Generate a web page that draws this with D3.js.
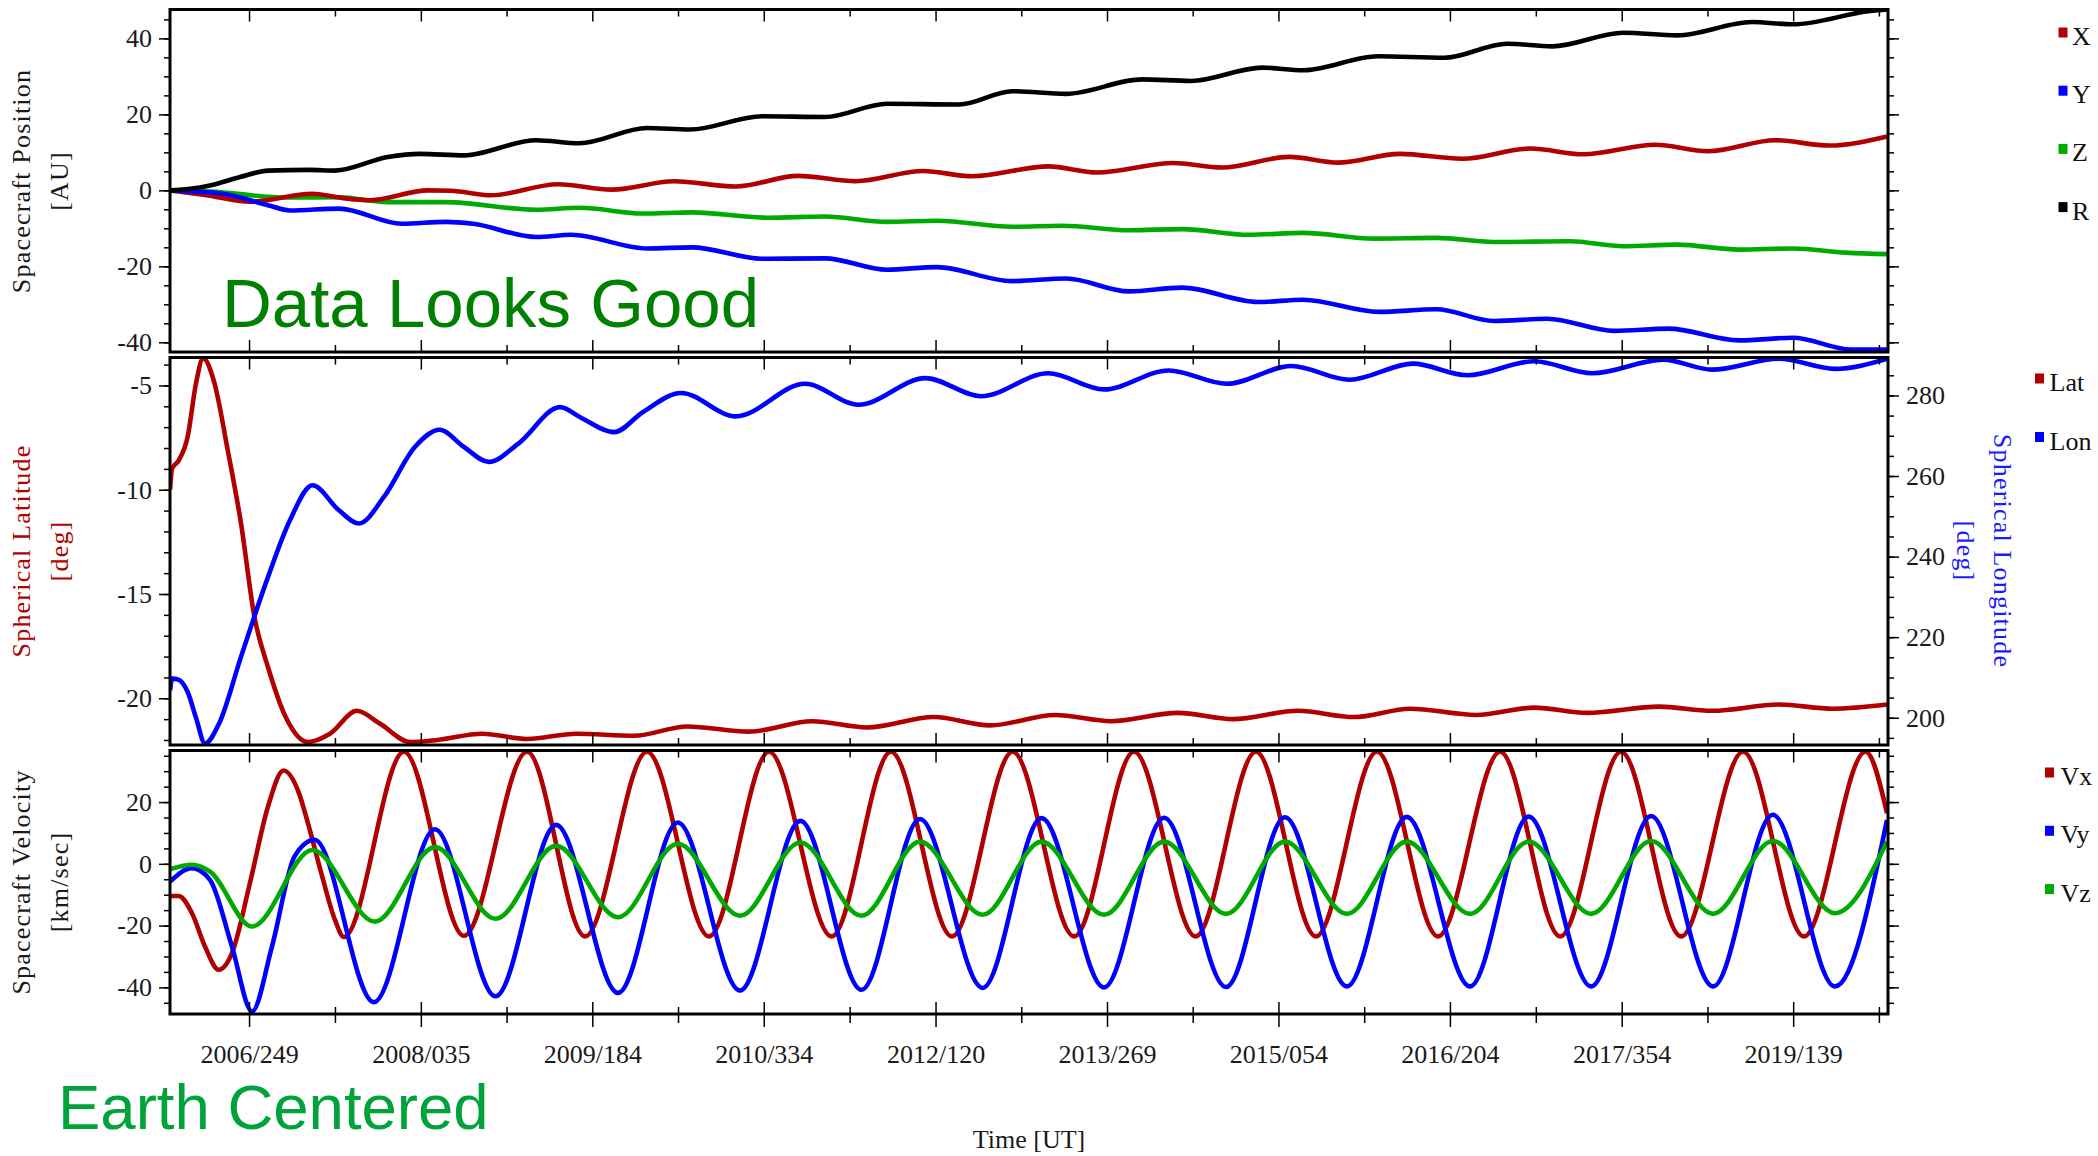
<!DOCTYPE html>
<html><head><meta charset="utf-8">
<script src="https://cdn.jsdelivr.net/npm/d3@7"></script>
<style>
html,body{margin:0;padding:0;background:#fff;}
svg{display:block;}
</style></head><body>
<svg id="c" width="2098" height="1156"></svg>
<script>
// ---------- DATA (time in decimal years) ----------
const xTickLabels = ["2006/249","2008/035","2009/184","2010/334","2012/120","2013/269","2015/054","2016/204","2017/354","2019/139"];
const xDomainYears = [2006.029, 2020.158];

const posTicks = [-40,-20,0,20,40];
const latTicks = [-20,-15,-10,-5];
const lonTicks = [200,220,240,260,280];
const velTicks = [-40,-20,0,20];

const posXdata = [[2006.030,0.0],[2006.317,-1.2],[2006.687,-3.0],[2007.201,-0.9],[2007.419,-1.9],[2007.674,-2.6],[2008.151,0.0],[2008.340,-0.1],[2008.669,-1.3],[2009.220,1.6],[2009.664,0.2],[2010.174,2.4],[2010.684,1.0],[2011.194,3.8],[2011.671,2.4],[2012.222,5.1],[2012.625,3.7],[2013.250,6.3],[2013.653,4.7],[2014.278,7.2],[2014.681,6.0],[2015.232,8.8],[2015.635,7.3],[2016.145,9.6],[2016.655,8.3],[2017.214,11.0],[2017.650,9.5],[2018.242,12.0],[2018.678,10.3],[2019.229,13.2],[2019.673,11.8],[2020.150,14.2]];
const posYdata = [[2006.030,0.0],[2006.465,-0.9],[2006.835,-3.9],[2007.016,-5.3],[2007.419,-4.8],[2007.937,-8.8],[2008.299,-8.3],[2008.521,-8.8],[2009.039,-12.3],[2009.327,-11.7],[2009.952,-15.3],[2010.322,-15.0],[2010.898,-18.0],[2011.416,-17.9],[2011.926,-20.9],[2012.337,-20.2],[2012.954,-23.9],[2013.398,-23.2],[2013.916,-26.6],[2014.352,-25.6],[2014.977,-29.4],[2015.347,-28.8],[2015.972,-32.0],[2016.441,-31.3],[2016.918,-34.4],[2017.354,-33.8],[2017.905,-37.0],[2018.349,-36.4],[2018.933,-39.5],[2019.377,-38.8],[2019.854,-41.9],[2020.150,-41.9]];
const posZdata = [[2006.030,0.0],[2006.358,-0.3],[2006.983,-1.9],[2007.419,-1.8],[2007.822,-3.1],[2008.299,-3.1],[2009.039,-5.1],[2009.401,-4.6],[2009.919,-6.1],[2010.322,-5.8],[2010.939,-7.2],[2011.416,-6.9],[2011.926,-8.3],[2012.337,-8.0],[2012.954,-9.6],[2013.365,-9.3],[2013.916,-10.5],[2014.352,-10.2],[2014.903,-11.7],[2015.347,-11.2],[2015.931,-12.7],[2016.441,-12.5],[2016.951,-13.6],[2017.543,-13.4],[2017.979,-14.7],[2018.423,-14.3],[2018.933,-15.6],[2019.377,-15.3],[2019.813,-16.4],[2020.150,-16.8]];
const posRdata = [[2006.030,0.0],[2006.194,0.4],[2006.358,1.3],[2006.605,3.5],[2006.835,5.2],[2007.181,5.4],[2007.386,5.2],[2007.822,8.8],[2008.085,9.6],[2008.447,9.2],[2009.039,13.2],[2009.393,12.4],[2009.952,16.4],[2010.306,16.0],[2010.898,19.5],[2011.416,19.3],[2011.926,22.8],[2012.518,22.6],[2012.954,26.1],[2013.398,25.4],[2014.023,29.2],[2014.426,28.8],[2015.010,32.3],[2015.347,31.6],[2015.964,35.3],[2016.507,34.9],[2017.025,38.6],[2017.395,37.9],[2017.979,41.5],[2018.423,40.8],[2019.040,44.3],[2019.377,43.7],[2020.010,47.2],[2020.150,47.6]];

const latData = [[2006.030,-10.0],[2006.045,-9.0],[2006.100,-8.6],[2006.173,-7.5],[2006.243,-4.9],[2006.301,-3.7],[2006.391,-4.8],[2006.504,-8.1],[2006.613,-11.6],[2006.724,-16.1],[2006.835,-18.5],[2006.981,-20.9],[2007.164,-22.1],[2007.345,-21.7],[2007.567,-20.6],[2007.752,-21.2],[2008.009,-22.1],[2008.229,-22.0],[2008.595,-21.7],[2008.965,-21.95],[2009.368,-21.7],[2009.845,-21.8],[2010.281,-21.35],[2010.791,-21.6],[2011.309,-21.1],[2011.761,-21.4],[2012.312,-20.9],[2012.773,-21.3],[2013.307,-20.8],[2013.768,-21.1],[2014.319,-20.7],[2014.771,-21.0],[2015.306,-20.6],[2015.766,-20.9],[2016.227,-20.5],[2016.770,-20.8],[2017.247,-20.45],[2017.683,-20.7],[2018.275,-20.4],[2018.711,-20.6],[2019.262,-20.3],[2019.706,-20.5],[2020.150,-20.3]];
const lonData = [[2006.030,206.8],[2006.046,209.7],[2006.095,209.5],[2006.173,206.5],[2006.243,200.0],[2006.317,193.6],[2006.432,198.5],[2006.613,215.1],[2006.835,234.9],[2007.016,249.0],[2007.201,257.7],[2007.419,251.5],[2007.584,248.2],[2007.789,254.8],[2008.044,267.2],[2008.247,271.5],[2008.447,267.2],[2008.651,263.5],[2008.891,268.0],[2009.237,277.1],[2009.401,274.6],[2009.681,270.9],[2009.919,275.9],[2010.232,280.6],[2010.682,274.8],[2011.252,282.9],[2011.691,277.7],[2012.242,284.3],[2012.699,279.8],[2013.250,285.5],[2013.710,281.5],[2014.243,286.2],[2014.720,282.9],[2015.252,287.3],[2015.729,283.9],[2016.252,287.9],[2016.696,285.0],[2017.247,288.5],[2017.724,285.5],[2018.308,288.9],[2018.711,286.4],[2019.262,289.1],[2019.722,286.6],[2020.150,289.1]];

const velXdata = [[2006.030,-10.4],[2006.100,-10.4],[2006.210,-16.0],[2006.317,-26.8],[2006.430,-34.3],[2006.539,-28.9],[2006.687,-6.2],[2006.835,18.5],[2006.963,30.2],[2007.090,22.9],[2007.164,13.2],[2007.274,-3.0],[2007.386,-18.1],[2007.460,-23.7],[2007.954,36.3],[2008.447,-23.3],[2008.965,36.3],[2009.442,-23.5],[2009.952,36.3],[2010.462,-23.5],[2010.956,36.3],[2011.471,-23.5],[2011.959,36.3],[2012.460,-23.5],[2012.958,36.3],[2013.464,-23.5],[2013.957,36.3],[2014.463,-23.5],[2014.960,36.3],[2015.454,-23.5],[2015.956,36.3],[2016.457,-23.5],[2016.967,36.3],[2017.461,-23.5],[2017.962,36.3],[2018.456,-23.5],[2018.966,36.3],[2019.467,-23.5],[2019.974,36.3],[2020.150,16.4]];
const velYdata = [[2006.030,-5.7],[2006.210,-1.4],[2006.358,-5.2],[2006.539,-26.8],[2006.704,-47.8],[2006.868,-26.8],[2007.054,2.4],[2007.219,7.8],[2007.707,-44.8],[2008.209,11.2],[2008.706,-42.9],[2009.204,12.6],[2009.714,-41.8],[2010.205,13.4],[2010.717,-41.0],[2011.214,13.9],[2011.717,-40.8],[2012.197,14.5],[2012.712,-40.2],[2013.196,14.8],[2013.710,-40.0],[2014.204,14.9],[2014.714,-39.9],[2015.199,15.1],[2015.709,-39.7],[2016.200,15.2],[2016.720,-39.7],[2017.202,15.3],[2017.716,-39.7],[2018.209,15.5],[2018.719,-39.7],[2019.211,15.9],[2019.722,-39.7],[2020.150,14.2]];
const velZdata = [[2006.030,-1.7],[2006.210,-0.3],[2006.358,-2.5],[2006.704,-20.3],[2007.201,4.5],[2007.715,-18.7],[2008.209,5.4],[2008.706,-17.8],[2009.204,5.8],[2009.714,-17.3],[2010.205,6.5],[2010.717,-16.8],[2011.214,6.9],[2011.717,-16.8],[2012.197,7.2],[2012.712,-16.5],[2013.196,7.2],[2013.710,-16.5],[2014.204,7.2],[2014.714,-16.2],[2015.199,7.2],[2015.709,-16.2],[2016.200,7.2],[2016.720,-16.2],[2017.202,7.2],[2017.716,-16.2],[2018.209,7.4],[2018.719,-16.2],[2019.211,7.4],[2019.722,-16.0],[2020.150,7.2]];

// ---------- helpers ----------
const RED = "#b00000", BLUE = "#0000ff", GREEN = "#00aa00", BLACK = "#000000";
const SERIF = "'Liberation Serif','Times New Roman',serif";
const SANS = "'Liberation Sans',Arial,sans-serif";

function toDate(dy){
  const y = Math.floor(dy), f = dy - y;
  const days = ((y%4===0 && y%100!==0) || y%400===0) ? 366 : 365;
  return new Date(Date.UTC(y,0,1) + f*days*86400000);
}
function parseYD(s){ const [y,d] = s.split("/").map(Number); return new Date(Date.UTC(y,0,d)); }

const svg = d3.select("#c");
const L = 170, Rr = 1888;
const x = d3.scaleUtc().domain(xDomainYears.map(toDate)).range([L, Rr]);

const majorDates = xTickLabels.map(parseYD);
const minorDates = [];
for (let i=0;i<majorDates.length;i++){
  const a = majorDates[i], b = majorDates[i+1];
  if (b) minorDates.push(new Date((+a + +b)/2));
  else minorDates.push(new Date(+a + (+a - +majorDates[i-1])/2));
}

const panels = [
  {top:9.5,  bottom:352},
  {top:357.5,bottom:745},
  {top:750.5,bottom:1014}
];

const yPos = d3.scaleLinear().domain([-42.55,47.6]).range([352,9.5]);
const yLat = d3.scaleLinear().domain([-22.24,-3.66]).range([745,357.5]);
const yLon = d3.scaleLinear().domain([193.23,289.42]).range([745,357.5]);
const yVel = d3.scaleLinear().domain([-48.63,36.7]).range([1014,750.5]);

function styleAxis(g){
  g.select(".domain").remove();
  g.selectAll(".tick line").attr("stroke","#000").attr("stroke-width",1.5);
  g.selectAll(".tick text").attr("font-family",SERIF).attr("font-size",26).attr("fill","#1a1a1a");
}

function yAxis(scale, xPos, side, majors, minors, labels){
  const mk = () => side==="left" ? d3.axisLeft(scale) : d3.axisRight(scale);
  svg.append("g").attr("transform",`translate(${xPos},0)`)
    .call(mk().tickValues(minors).tickSize(6).tickFormat(""))
    .call(styleAxis);
  svg.append("g").attr("transform",`translate(${xPos},0)`)
    .call(mk().tickValues(majors).tickSize(11).tickPadding(7).tickFormat(labels ? (d=>String(d)) : ""))
    .call(styleAxis);
}

function xInnerTicks(p){
  svg.append("g").attr("transform",`translate(0,${p.top})`)
    .call(d3.axisTop(x).tickValues(majorDates).tickSize(-12).tickFormat("")).call(styleAxis);
  svg.append("g").attr("transform",`translate(0,${p.top})`)
    .call(d3.axisTop(x).tickValues(minorDates).tickSize(-7).tickFormat("")).call(styleAxis);
  svg.append("g").attr("transform",`translate(0,${p.bottom})`)
    .call(d3.axisBottom(x).tickValues(majorDates).tickSize(-12).tickFormat("")).call(styleAxis);
  svg.append("g").attr("transform",`translate(0,${p.bottom})`)
    .call(d3.axisBottom(x).tickValues(minorDates).tickSize(-7).tickFormat("")).call(styleAxis);
}

// clip paths
const defs = svg.append("defs");
panels.forEach((p,i)=>{
  defs.append("clipPath").attr("id","clip"+i).append("rect")
    .attr("x",L).attr("y",p.top).attr("width",Rr-L).attr("height",p.bottom-p.top);
});

function drawLine(data, yScale, color, clipIdx){
  const line = d3.line().x(d=>x(toDate(d[0]))).y(d=>yScale(d[1])).curve(d3.curveMonotoneX);
  svg.append("path").datum(data).attr("d",line)
    .attr("fill","none").attr("stroke",color).attr("stroke-width",4.6)
    .attr("stroke-linejoin","round").attr("stroke-linecap","butt")
    .attr("clip-path",`url(#clip${clipIdx})`);
}

// ---------- Panel 1 ----------
drawLine(posZdata, yPos, GREEN, 0);
drawLine(posXdata, yPos, RED, 0);
drawLine(posYdata, yPos, BLUE, 0);
drawLine(posRdata, yPos, BLACK, 0);

// ---------- Panel 2 ----------
drawLine(latData, yLat, RED, 1);
drawLine(lonData, yLon, BLUE, 1);

// ---------- Panel 3 ----------
drawLine(velXdata, yVel, RED, 2);
drawLine(velYdata, yVel, BLUE, 2);
drawLine(velZdata, yVel, GREEN, 2);

// ---------- axes ----------
yAxis(yPos, L, "left", posTicks, d3.range(-40,46,5), true);
yAxis(yPos, Rr, "right", posTicks, d3.range(-40,46,5), false);
yAxis(yLat, L, "left", latTicks, d3.range(-22,-3,1), true);
yAxis(yLon, Rr, "right", lonTicks, d3.range(195,290,5), true);
yAxis(yVel, L, "left", velTicks, d3.range(-45,36,5), true);
yAxis(yVel, Rr, "right", velTicks, d3.range(-45,36,5), false);

panels.forEach(xInnerTicks);
// outer bottom ticks + labels on the last panel
svg.append("g").attr("transform",`translate(0,${panels[2].bottom})`)
  .call(d3.axisBottom(x).tickValues(minorDates).tickSize(9).tickFormat("")).call(styleAxis);
svg.append("g").attr("transform",`translate(0,${panels[2].bottom})`)
  .call(d3.axisBottom(x).tickValues(majorDates).tickSize(13).tickPadding(18)
    .tickFormat((d,i)=>xTickLabels[i])).call(styleAxis);

// frames
panels.forEach(p=>{
  svg.append("rect").attr("x",L).attr("y",p.top).attr("width",Rr-L).attr("height",p.bottom-p.top)
    .attr("fill","none").attr("stroke","#000").attr("stroke-width",3);
});

// ---------- axis titles ----------
function leftTitle(lines, cy, color){
  const t = svg.append("text").attr("transform",`translate(30,${cy}) rotate(-90)`)
    .attr("text-anchor","middle").attr("font-family",SERIF).attr("font-size",26)
    .attr("letter-spacing",1.2).attr("fill",color);
  lines.forEach((s,i)=>t.append("tspan").attr("x",0).attr("y",i*38).text(s));
}
leftTitle(["Spacecraft Position","[AU]"], 181, "#1a1a1a");
leftTitle(["Spherical Latitude","[deg]"], 551, RED);
leftTitle(["Spacecraft Velocity","[km/sec]"], 882, "#1a1a1a");

{
  const t = svg.append("text").attr("transform",`translate(1994,551) rotate(90)`)
    .attr("text-anchor","middle").attr("font-family",SERIF).attr("font-size",26)
    .attr("letter-spacing",1.2).attr("fill","#1a1aff");
  ["Spherical Longitude","[deg]"].forEach((s,i)=>t.append("tspan").attr("x",0).attr("y",i*37).text(s));
}

svg.append("text").attr("x",(L+Rr)/2).attr("y",1148).attr("text-anchor","middle")
  .attr("font-family",SERIF).attr("font-size",26).attr("fill","#1a1a1a").text("Time [UT]");

// ---------- legends ----------
function legend(items, sqX, txtX, base0, step){
  items.forEach((it,i)=>{
    const b = base0 + i*step;
    svg.append("rect").attr("x",sqX).attr("y",b-17.5).attr("width",9).attr("height",10).attr("fill",it.c);
    svg.append("text").attr("x",txtX).attr("y",b).attr("font-family",SERIF).attr("font-size",26)
      .attr("fill","#111").text(it.k);
  });
}
legend([{k:"X",c:RED},{k:"Y",c:BLUE},{k:"Z",c:GREEN},{k:"R",c:BLACK}], 2058.5, 2072, 45, 58.2);
legend([{k:"Lat",c:RED},{k:"Lon",c:BLUE}], 2035, 2049.5, 391, 58.5);
legend([{k:"Vx",c:RED},{k:"Vy",c:BLUE},{k:"Vz",c:GREEN}], 2045, 2060.5, 785, 58.3);

// ---------- annotations ----------
svg.append("text").attr("x",222).attr("y",327).attr("font-family",SANS).attr("font-size",69)
  .attr("fill","#008000").text("Data Looks Good");
svg.append("text").attr("x",58).attr("y",1129).attr("font-family",SANS).attr("font-size",63.5)
  .attr("fill","#00a33a").text("Earth Centered");
</script>
</body></html>
